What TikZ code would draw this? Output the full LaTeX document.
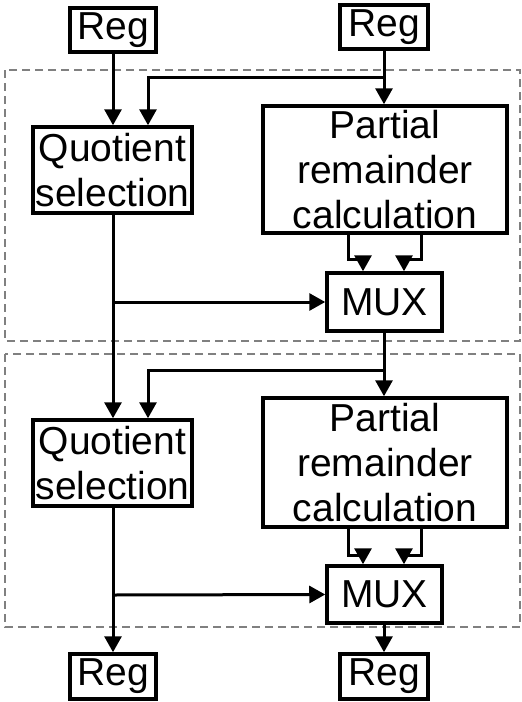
\documentclass[tikz,border=0pt]{standalone}
\usepackage{fontspec}
\setmainfont{Liberation Sans}
\usetikzlibrary{arrows.meta}
\usetikzlibrary{positioning}
\usetikzlibrary{calc}

\tikzset{
  block/.style={draw, line width=3.5pt, align=center, inner sep=0pt,
    font=\fontsize{39}{45}\selectfont},
  wire/.style={line width=3pt, -{Triangle[length=16pt,width=17pt]}},
  stage/.style={draw=gray, line width=1.5pt, dash pattern=on 8pt off 5pt},
}

\begin{document}
\begin{tikzpicture}[x=1pt,y=-1pt]
  \useasboundingbox (0,0) rectangle (522,702);

  % pipeline stages
  \draw[stage] (5,70) rectangle (520,341);
  \draw[stage] (5,354) rectangle (520,627);

  % registers
  \node[block, minimum width=86pt, minimum height=44pt] (regq) at (113,30) {Reg};
  \node[block, minimum width=88pt, minimum height=44pt] (regr) at (384,27) {Reg};
  \node[block, minimum width=86pt, minimum height=45pt] (outq) at (113,676.5) {Reg};
  \node[block, minimum width=88pt, minimum height=45pt] (outr) at (384,676.5) {Reg};

  % first stage
  \node[block, minimum width=159pt, minimum height=86pt] (quo1) at (112.5,170) {Quotient\\selection};
  \node[block, minimum width=244pt, minimum height=127pt] (par1) at (385,169.5) {Partial\\remainder\\calculation};
  \node[block, minimum width=115pt, minimum height=58pt] (mux1) at (384.5,302) {MUX};

  % second stage
  \node[block, minimum width=159pt, minimum height=86pt] (quo2) at (112.5,463) {Quotient\\selection};
  \node[block, minimum width=244pt, minimum height=129pt] (par2) at (385,462.5) {Partial\\remainder\\calculation};
  \node[block, minimum width=115pt, minimum height=57pt] (mux2) at (384.5,594.5) {MUX};

  % taps
  \coordinate (tap1) at (384,77);
  \coordinate (tap2) at (384,370);
  \coordinate (sel1) at (113,302);
  \coordinate (sel2) at (113,595);

  % first stage wiring
  \draw[wire] (regq.south) -- (regq.south |- quo1.north);
  \draw[wire] (regr.south) -- (regr.south |- par1.north);
  \draw[wire] (tap1) -- (148,77) -- (148,0 |- quo1.north);
  \draw[wire] (348,0 |- par1.south) -- (348,259) -- (363,259) -- (363,0 |- mux1.north);
  \draw[wire] (421,0 |- par1.south) -- (421,259) -- (404,259) -- (404,0 |- mux1.north);
  \draw[wire] (sel1) -- (mux1.west);

  % second stage wiring
  \draw[wire] (quo1.south -| sel1) -- (sel1 |- quo2.north);
  \draw[wire] (mux1.south -| tap2) -- (tap2 |- par2.north);
  \draw[wire] (tap2) -- (148,370) -- (148,0 |- quo2.north);
  \draw[wire] (348,0 |- par2.south) -- (348,555) -- (363,555) -- (363,0 |- mux2.north);
  \draw[wire] (421,0 |- par2.south) -- (421,555) -- (404,555) -- (404,0 |- mux2.north);
  \draw[wire] (sel2) -- (mux2.west);

  % outputs
  \draw[wire] (quo2.south -| sel2) -- (sel2 |- outq.north);
  \draw[wire] (mux2.south -| outr) -- (outr.north);
\end{tikzpicture}
\end{document}
